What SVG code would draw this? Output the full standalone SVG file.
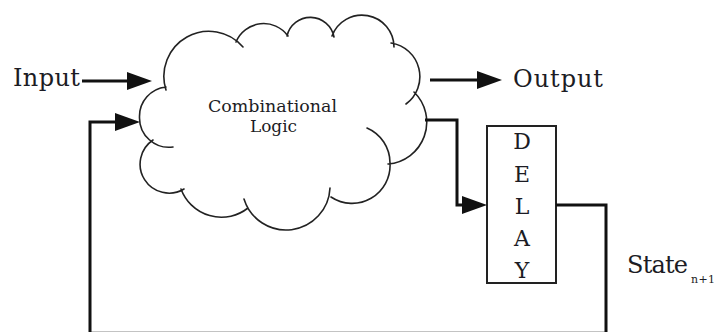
<svg xmlns="http://www.w3.org/2000/svg" width="716" height="332" viewBox="0 0 716 332">
  <style>
    .label { font-family: "DejaVu Serif", "Liberation Serif", serif; fill: #1c1c24; }
    .big { font-size: 24px; }
    .small { font-size: 17.5px; }
    .letter { font-size: 22px; text-anchor: middle; }
    .wire { fill: none; stroke: #111; stroke-width: 3; }
    .cloud { fill: none; stroke: #222; stroke-width: 1.6; stroke-linecap: round; }
    .box { fill: #fff; stroke: #222; stroke-width: 2; }
  </style>
  <defs>
    <marker id="arrow" viewBox="0 0 25 18" refX="0" refY="9" markerWidth="25" markerHeight="18" markerUnits="userSpaceOnUse" orient="auto">
      <path d="M0,0 L25,9 L0,18 Z" fill="#111"/>
    </marker>
  </defs>

  <!-- Combinational logic cloud -->
  <g id="logic">
    <path class="cloud" d="M166,90 A45,45 0 0 1 243,47
      M236,42 A30,30 0 0 1 288,36
      M287,36 A24,24 0 0 1 334,37
      M332,36 A32,32 0 0 1 394,47
      M391,43 A34,34 0 0 1 406,104
      M414,92 A42,42 0 0 1 388,164
      M367,128 A38,38 0 0 1 390,163 A38,38 0 0 1 331,197
      M330,188 A44,44 0 0 1 244,199
      M248,208 A43,43 0 0 1 181,189
      M184,189 A29,29 0 0 1 153,140
      M173,147 A29.5,29.5 0 0 1 139.5,117 A29.5,29.5 0 0 1 166,87"/>
    <text class="label small" x="208" y="112" textLength="129" lengthAdjust="spacingAndGlyphs">Combinational</text>
    <text class="label small" x="250" y="132" textLength="47" lengthAdjust="spacingAndGlyphs">Logic</text>
  </g>

  <!-- Delay element -->
  <g id="delay">
    <rect class="box" x="487" y="126" width="69" height="157"/>
    <text class="label letter" x="522" y="149">D</text>
    <text class="label letter" x="522" y="182">E</text>
    <text class="label letter" x="522" y="214">L</text>
    <text class="label letter" x="522" y="246">A</text>
    <text class="label letter" x="522" y="278">Y</text>
  </g>

  <!-- Terminal labels -->
  <g id="input">
    <text class="label big" x="13" y="86" textLength="67">Input</text>
  </g>
  <g id="output">
    <text class="label big" x="513" y="87" textLength="90">Output</text>
  </g>
  <g id="state">
    <text class="label big" x="627" y="273" textLength="61">State</text>
    <text class="label" x="691" y="283" font-size="11" textLength="24">n+1</text>
  </g>

  <!-- Connectors; the feedback run along the bottom sits at the lower edge -->
  <g id="connectors">
    <path class="wire" d="M82,81 H127" marker-end="url(#arrow)"/>
    <path class="wire" d="M430,80 H477" marker-end="url(#arrow)"/>
    <path class="wire" d="M425,120 H457 V205 H462" marker-end="url(#arrow)"/>
    <path class="wire" d="M556,205 H606 V333.3 H90 V122 H115" marker-end="url(#arrow)"/>
  </g>
</svg>
